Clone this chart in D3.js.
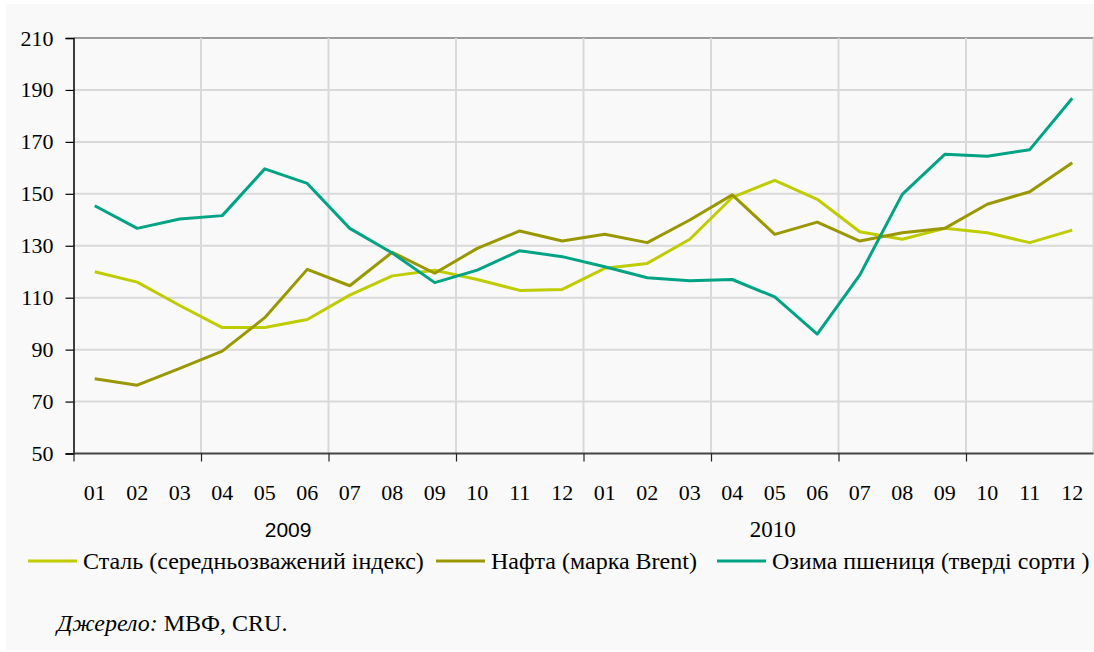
<!DOCTYPE html>
<html>
<head>
<meta charset="utf-8">
<script src="https://cdn.jsdelivr.net/npm/d3@7"></script>
<style>
  body { margin: 0; background: #fff; }
</style>
</head>
<body>
<div id="chart"></div>
<script>
// months 2009-01 .. 2010-12
var months = ['01','02','03','04','05','06','07','08','09','10','11','12',
              '01','02','03','04','05','06','07','08','09','10','11','12'];
var years = ['2009', '2010'];
var yTicks = [50, 70, 90, 110, 130, 150, 170, 190, 210];

var seriesNames = ['Сталь (середньозважений індекс)', 'Нафта (марка Brent)', 'Озима пшениця (тверді сорти )'];
var seriesColors = ['#bfcc00', '#9a9800', '#00a383'];

var steel = [120, 116, 107, 98.5, 98.5, 101.6, 111, 118.4, 120.6, 117, 112.8, 113.2,
             121.3, 123.2, 132.5, 148.6, 155.2, 147.9, 135.4, 132.5, 136.7, 135, 131.2, 136];
var brent = [78.8, 76.3, 82.8, 89.4, 102.3, 120.9, 114.6, 127.5, 119.4, 129, 135.7, 131.8,
             134.4, 131.2, 139.9, 149.6, 134.4, 139.1, 131.8, 135, 136.7, 146, 150.8, 162];
var wheat = [145.4, 136.7, 140.3, 141.6, 159.6, 154, 136.7, 127.2, 115.8, 120.6, 128.1, 125.8,
             121.9, 117.7, 116.5, 117, 110.3, 96, 118.7, 149.8, 165.2, 164.5, 167, 186.8];

var allSeries = [steel, brent, wheat];

var SERIF = '"Liberation Serif"';
var SANS = '"Liberation Sans"';

var W = 1094, H = 652;
var svg = d3.select('#chart').append('svg')
  .attr('width', W).attr('height', H);

// panel
svg.append('rect')
  .attr('x', 6).attr('y', 4).attr('width', W - 6).attr('height', H - 6)
  .attr('fill', '#f9f9f9');

var x = d3.scaleLinear().domain([0, 24]).range([73.5, 1093.5]);
var y = d3.scaleLinear().domain([50, 210]).range([453.5, 38]);

// horizontal gridlines
svg.append('g').selectAll('line')
  .data(yTicks.filter(function(d) { return d > 50; }))
  .enter().append('line')
  .attr('x1', x(0)).attr('x2', x(24))
  .attr('y1', function(d) { return y(d); })
  .attr('y2', function(d) { return y(d); })
  .attr('stroke', function(d) { return d == 210 ? '#9c9c9c' : '#d9d9d9'; })
  .attr('stroke-width', 2);

// vertical gridlines every quarter
var quarters = d3.range(3, 25, 3);
svg.append('g').selectAll('line')
  .data(quarters)
  .enter().append('line')
  .attr('x1', function(d) { return x(d); })
  .attr('x2', function(d) { return x(d); })
  .attr('y1', y(210)).attr('y2', y(50))
  .attr('stroke', '#d9d9d9')
  .attr('stroke-width', 2);

// y axis
var yAxis = svg.append('g')
  .attr('transform', 'translate(' + x(0) + ',0)')
  .call(d3.axisLeft(y).tickValues(yTicks).tickSize(8).tickPadding(12));
yAxis.attr('font-family', null).attr('font-size', null);
yAxis.select('.domain').attr('stroke', '#000').attr('stroke-width', 1.5);
yAxis.selectAll('.tick line').attr('stroke', '#000').attr('stroke-width', 1.2);
yAxis.selectAll('.tick text')
  .attr('fill', '#000')
  .style('font-family', SERIF)
  .style('font-size', '22px');

// x axis (ticks only every quarter)
var xAxis = svg.append('g')
  .attr('transform', 'translate(0,' + y(50) + ')')
  .call(d3.axisBottom(x).tickValues(d3.range(0, 22, 3)).tickSize(8).tickFormat(''));
xAxis.select('.domain').attr('stroke', '#444').attr('stroke-width', 2)
  .attr('d', 'M' + x(0) + ',0H' + x(24));
xAxis.selectAll('.tick line').attr('stroke', '#222').attr('stroke-width', 1.2);

// month labels
svg.append('g').selectAll('text')
  .data(months)
  .enter().append('text')
  .attr('x', function(d, i) { return x(i + 0.5); })
  .attr('y', 500)
  .attr('text-anchor', 'middle')
  .style('font-family', SERIF)
  .style('font-size', '22px')
  .text(function(d) { return d; });

// year labels (first one comes out in a sans font in the original)
svg.append('text')
  .attr('x', x(5.05)).attr('y', 537)
  .attr('text-anchor', 'middle')
  .style('font-family', SANS)
  .style('font-size', '21px')
  .text(years[0]);
svg.append('text')
  .attr('x', x(16.45)).attr('y', 537)
  .attr('text-anchor', 'middle')
  .style('font-family', SERIF)
  .style('font-size', '23px')
  .text(years[1]);

// lines
var line = d3.line()
  .x(function(d, i) { return x(i + 0.5); })
  .y(function(d) { return y(d); });

svg.append('g').selectAll('path')
  .data(allSeries)
  .enter().append('path')
  .attr('d', line)
  .attr('fill', 'none')
  .attr('stroke', function(d, i) { return seriesColors[i]; })
  .attr('stroke-width', 3)
  .attr('stroke-linejoin', 'round');

// legend
var legendX = [28, 436, 717];
var leg = svg.append('g').selectAll('g')
  .data(seriesNames)
  .enter().append('g')
  .attr('transform', function(d, i) { return 'translate(' + legendX[i] + ',561)'; });
leg.append('line')
  .attr('x1', 0).attr('x2', 49)
  .attr('stroke', function(d, i) { return seriesColors[i]; })
  .attr('stroke-width', 3);
leg.append('text')
  .attr('x', 55).attr('y', 8)
  .style('font-family', SERIF)
  .style('font-size', '24px')
  .text(function(d) { return d; });

// source
var src = svg.append('text').attr('x', 57).attr('y', 631)
  .style('font-family', SERIF)
  .style('font-size', '24px');
src.append('tspan').style('font-style', 'italic').text('Джерело:');
src.append('tspan').text(' МВФ, CRU.');
</script>
</body>
</html>
